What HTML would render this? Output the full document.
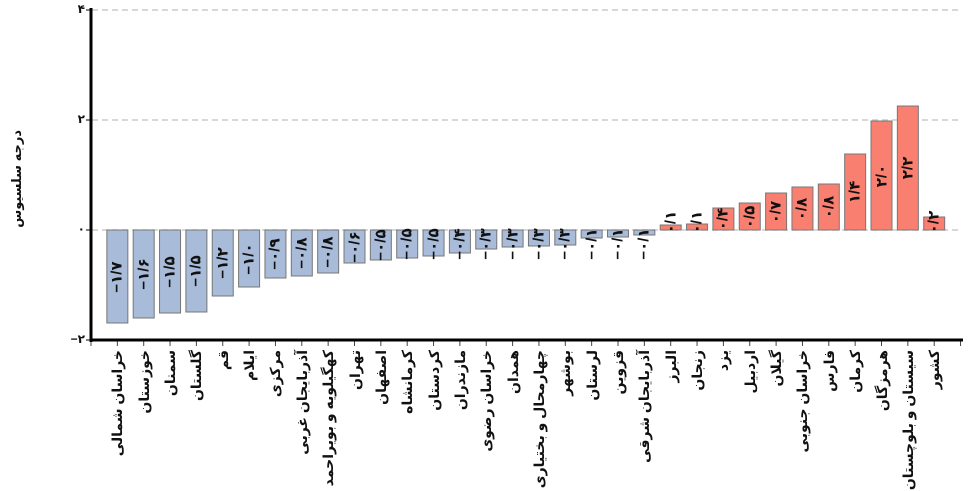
<!DOCTYPE html>
<html><head><meta charset="utf-8"><style>
body{margin:0;width:968px;height:491px;background:#fff;position:relative;overflow:hidden;font-family:"Liberation Sans","Noto Sans CJK SC","DejaVu Sans",sans-serif}
.r{position:absolute;white-space:nowrap;transform-origin:0 0;transform:rotate(-90deg) translateX(-100%) translateY(-50%);direction:rtl;font-size:14px;font-weight:bold;color:#111;line-height:16px}
.v{position:absolute;white-space:nowrap;transform-origin:0 0;transform:rotate(-90deg) translate(-50%,-50%);direction:ltr;font-size:15px;font-weight:bold;color:#111;line-height:15px}
.y{position:absolute;font-size:12px;font-weight:bold;color:#111}
</style></head><body>
<svg width="968" height="491" style="position:absolute;left:0;top:0" id="s"></svg>
<div id="t"></div>
<script>
var names=["خراسان شمالی","خوزستان","سمنان","گلستان","قم","ایلام","مرکزی","آذربایجان غربی","کهگیلویه و بویراحمد","تهران","اصفهان","کرمانشاه","کردستان","مازندران","خراسان رضوی","همدان","چهارمحال و بختیاری","بوشهر","لرستان","قزوین","آذربایجان شرقی","البرز","زنجان","یزد","اردبیل","گیلان","خراسان جنوبی","فارس","کرمان","هرمزگان","سیستان و بلوچستان","کشور"];
var vals=[-1.7,-1.6,-1.5,-1.5,-1.2,-1.0,-0.9,-0.8,-0.8,-0.6,-0.5,-0.5,-0.5,-0.4,-0.3,-0.3,-0.3,-0.3,-0.1,-0.1,-0.1,0.1,0.1,0.4,0.5,0.7,0.8,0.8,1.4,2.0,2.2,0.2];
var px=[93,88,83,82,66,57,48,46,43,33,30,28,26,23,19,17,16,15,8,7,5,5,6,22,27,37,43,46,76,109,124,13];
var fa=function(s){return s.replace(/\d/g,function(d){return "۰۱۲۳۴۵۶۷۸۹"[d]})};
var s='',t='',z=230,st=26.35;
[10,120,230].forEach(function(y){s+='<line x1="92" x2="962" y1="'+y+'" y2="'+y+'" stroke="#ccc" stroke-width="1.5" stroke-dasharray="6,4"/>'});
for(var i=0;i<32;i++){var cx=91+st*(i+1),h=px[i],neg=vals[i]<0;
var y0=neg?z:z-h;
s+='<rect x="'+(cx-10.5)+'" y="'+y0+'" width="21" height="'+h+'" fill="'+(neg?'#a8bbd8':'#f98071')+'" stroke="#777" stroke-width="1"/>';
var lab=(neg?'−':'')+fa(Math.abs(vals[i]).toFixed(1).replace('.','/'));
var cy=neg?z+Math.max(h/2,14):z-Math.max(h/2,8);
t+='<div class="v" style="left:'+cx+'px;top:'+cy+'px">'+lab+'</div>';
t+='<div class="r" style="left:'+cx+'px;top:350px">'+names[i]+'</div>';}
for(var k=0;k<=33;k++){var x=91+st*k;s+='<line x1="'+x+'" x2="'+x+'" y1="340" y2="346" stroke="#444" stroke-width="1"/>';}
s+='<line x1="91" x2="91" y1="8" y2="342" stroke="#000" stroke-width="3"/><line x1="90" x2="963" y1="340" y2="340" stroke="#000" stroke-width="3"/>';
[[10,'۴'],[120,'۲'],[230,'۰'],[340,'−۲']].forEach(function(a){s+='<line x1="86" x2="91" y1="'+a[0]+'" y2="'+a[0]+'" stroke="#000"/>';t+='<div class="y" style="right:'+(968-85)+'px;top:'+(a[0]-8)+'px">'+a[1]+'</div>'});
t+='<div class="r" style="left:17px;top:130px;font-size:13px">درجه سلسیوس</div>';
document.getElementById('s').innerHTML=s;document.getElementById('t').innerHTML=t;
</script>
</body></html>
